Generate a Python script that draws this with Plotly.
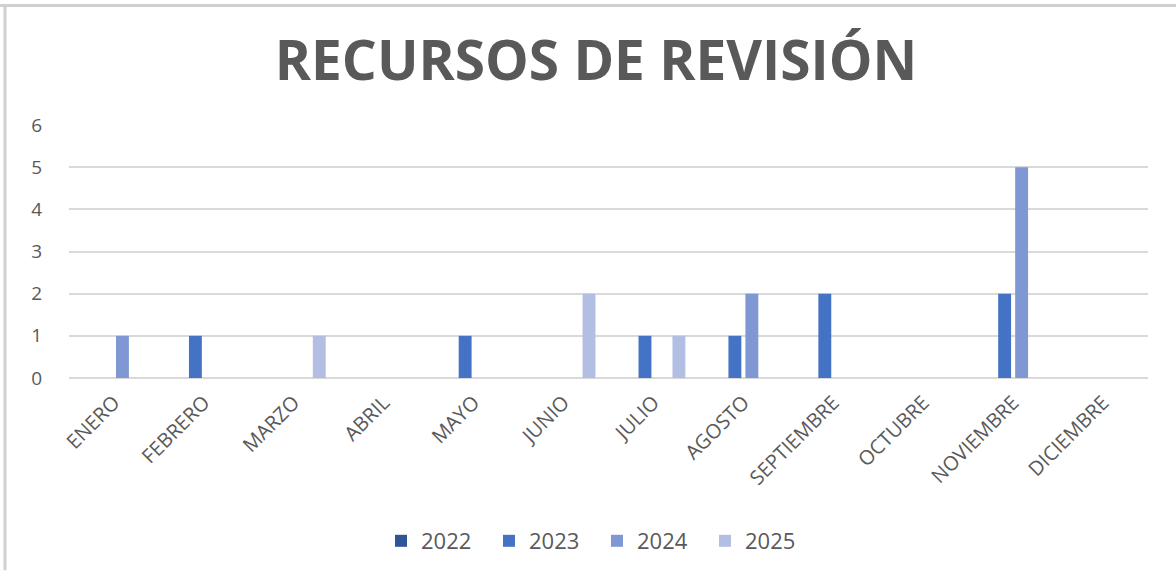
import plotly.graph_objects as go

months = ["ENERO", "FEBRERO", "MARZO", "ABRIL", "MAYO", "JUNIO", "JULIO",
          "AGOSTO", "SEPTIEMBRE", "OCTUBRE", "NOVIEMBRE", "DICIEMBRE"]
y2022 = [0, 0, 0, 0, 0, 0, 0, 0, 0, 0, 0, 0]
y2023 = [0, 1, 0, 0, 1, 0, 1, 1, 2, 0, 2, 0]
y2024 = [1, 0, 0, 0, 0, 0, 0, 2, 0, 0, 5, 0]
y2025 = [0, 0, 1, 0, 0, 2, 1, 0, 0, 0, 0, 0]
series_names = ["2022", "2023", "2024", "2025"]
series_colors = ["#2F5597", "#4472C4", "#7F97D3", "#B3BFE2"]
y_ticks = [0, 1, 2, 3, 4, 5, 6]

FONT = "Open Sans, sans-serif"

fig = go.Figure()
for name, vals, col in zip(series_names, [y2022, y2023, y2024, y2025], series_colors):
    fig.add_trace(go.Bar(x=months, y=vals, name=name,
                         marker=dict(color=col, line=dict(width=0))))

W, H = 1176, 572
L, R, T, B = 69, 28, 125, 193
PW, PH = W - L - R, H - T - B
fig.update_layout(
    width=W, height=H,
    paper_bgcolor="white", plot_bgcolor="white",
    margin=dict(l=L, r=R, t=T, b=B),
    barmode="group", bargap=0.245, bargroupgap=0.24,
    font=dict(family=FONT, color="#595959"),
    title=dict(text="<b>RECURSOS DE REVISIÓN</b>", x=596 / W, xanchor="center",
               y=1 - 61 / H, yanchor="middle",
               font=dict(size=55, color="#595959", family=FONT)),
    legend=dict(orientation="h", x=(597 - L) / PW, xanchor="center", y=-(541 - (H - B)) / PH,
                yanchor="middle", font=dict(size=22, color="#595959"), traceorder="normal",
                itemwidth=30, entrywidth=63, entrywidthmode="pixels"),
    showlegend=True,
)
fig.update_xaxes(tickangle=-45, tickfont=dict(size=20, color="#595959"),
                 showgrid=False, showline=False, ticks="", ticklabelstandoff=8)
fig.update_yaxes(range=[0, 6], tickvals=y_ticks, tickfont=dict(size=19, color="#595959"),
                 showgrid=True, gridcolor="#D9D9D9", gridwidth=1.5,
                 zeroline=True, zerolinecolor="#D9D9D9", zerolinewidth=1.5,
                 ticks="outside", ticklen=22, tickcolor="rgba(0,0,0,0)", showline=False)

# screenshot frame (light gray border at top and left)
fig.add_shape(type="line", xref="paper", yref="paper",
              x0=-L / PW, x1=(W - L) / PW, y0=1 + (T - 5) / PH, y1=1 + (T - 5) / PH,
              line=dict(color="#D0D0D0", width=3))
fig.add_shape(type="line", xref="paper", yref="paper",
              x0=-(L - 5) / PW, x1=-(L - 5) / PW, y0=1 + (T - 5) / PH, y1=-B / PH,
              line=dict(color="#D0D0D0", width=3))

fig.write_html("out.html", config={"displayModeBar": False},
               post_script="document.body.style.margin='0';document.body.style.overflow='hidden';")
